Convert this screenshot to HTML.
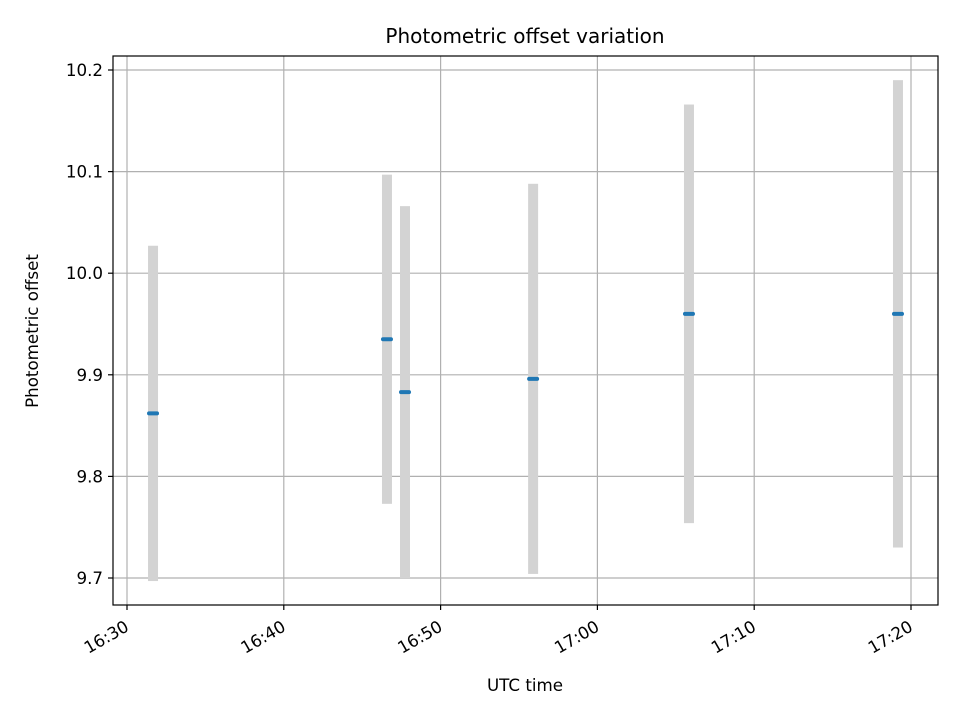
<!DOCTYPE html>
<html><head><meta charset="utf-8"><style>
body{margin:0;background:#fff;}
svg text{font-family:"DejaVu Sans","Liberation Sans",sans-serif;fill:#000;}
</style></head><body>
<svg id="chart" width="960" height="720" xmlns="http://www.w3.org/2000/svg">
<rect width="960" height="720" fill="#fff"/>
<g id="grid"></g>
<g id="bars"></g>
<g id="pts"></g>
<rect x="113" y="56" width="825" height="549" fill="none" stroke="#000" stroke-width="1.2"/>
<g id="ticks"></g>
<text x="525" y="43" font-size="20" text-anchor="middle">Photometric offset variation</text>
<text x="525" y="691" font-size="16.7" text-anchor="middle">UTC time</text>
<text transform="translate(38,331) rotate(-90)" font-size="16.7" text-anchor="middle">Photometric offset</text>
</svg>
<script>
const times=[31.66,46.58,47.73,55.9,65.84,79.17]; // minutes after 16:00
const values=[9.862,9.935,9.883,9.896,9.960,9.960];
const errors=[0.165,0.162,0.183,0.192,0.206,0.230];
const xTickMinutes=[30,40,50,60,70,80];
const xTickLabels=["16:30","16:40","16:50","17:00","17:10","17:20"];
const yTicks=[9.7,9.8,9.9,10.0,10.1,10.2];
const yTickLabels=["9.7","9.8","9.9","10.0","10.1","10.2"];
const NS="http://www.w3.org/2000/svg";
const X=m=>127+(m-30)*15.68;
const Y=v=>578-(v-9.7)*1016;
function mk(tag,attrs,parent){const e=document.createElementNS(NS,tag);for(const k in attrs)e.setAttribute(k,attrs[k]);parent.appendChild(e);return e;}
const grid=document.getElementById('grid'),ticks=document.getElementById('ticks'),bars=document.getElementById('bars'),pts=document.getElementById('pts');
xTickMinutes.forEach((m,i)=>{
 const x=X(m);
 const g=mk('line',{x1:x,x2:x,y1:56,y2:605,stroke:'#b0b0b0','stroke-width':1.2},grid);
 
 
 const t=mk('line',{x1:x,x2:x,y1:605,y2:610,stroke:'#000','stroke-width':1.2},ticks);
 
 
 const l=mk('text',{transform:`translate(${x+3},${630}) rotate(-30)`,'font-size':16.7,'text-anchor':'end'},ticks);
 l.textContent=xTickLabels[i];
 
 
});
yTicks.forEach((v,i)=>{
 const y=Y(v);
 const g=mk('line',{x1:113,x2:938,y1:y,y2:y,stroke:'#b0b0b0','stroke-width':1.2},grid);
 
 
 const t=mk('line',{x1:108,x2:113,y1:y,y2:y,stroke:'#000','stroke-width':1.2},ticks);
 
 
 const l=mk('text',{x:103,y:y+6,'font-size':16.7,'text-anchor':'end'},ticks);
 l.textContent=yTickLabels[i];
 
 
});
times.forEach((m,i)=>{
 const x=X(m);
 const b=mk('rect',{x:x-5,y:Y(values[i]+errors[i]),width:10,height:Y(values[i]-errors[i])-Y(values[i]+errors[i]),fill:'#d3d3d3'},bars);
 
 
 const p=mk('line',{x1:x-4,x2:x+4,y1:Y(values[i]),y2:Y(values[i]),stroke:'#1f77b4','stroke-width':4,'stroke-linecap':'round'},pts);
 
 
});
</script>
</body></html>
